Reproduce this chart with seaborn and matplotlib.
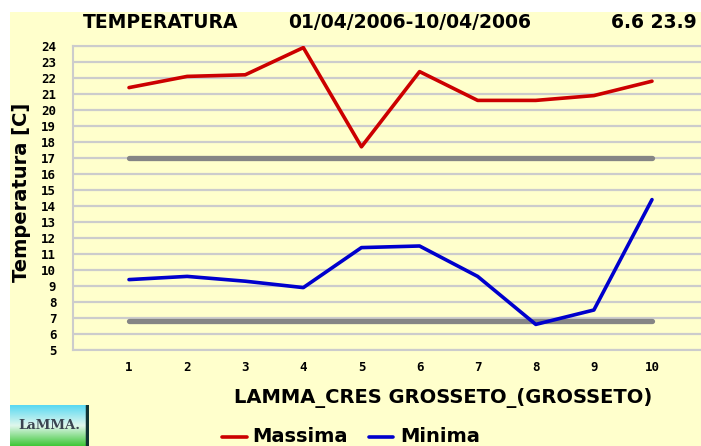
import numpy as np
import pandas as pd
import matplotlib
matplotlib.use("Agg")
import matplotlib.pyplot as plt
import seaborn as sns
from matplotlib.patches import Rectangle

days = [1, 2, 3, 4, 5, 6, 7, 8, 9, 10]
massima = [21.4, 22.1, 22.2, 23.9, 17.7, 22.4, 20.6, 20.6, 20.9, 21.8]
minima = [9.4, 9.6, 9.3, 8.9, 11.4, 11.5, 9.6, 6.6, 7.5, 14.4]
ref_max = 17.0
ref_min = 6.8
title_parts = ["TEMPERATURA", "01/04/2006-10/04/2006", "6.6 23.9"]
station = "LAMMA_CRES GROSSETO_(GROSSETO)"
yticks = list(range(5, 25))

sns.set_theme(style="white")
plt.rcParams['font.family'] = ['DejaVu Sans', 'DejaVu Sans Mono']
plt.rcParams['text.color'] = 'black'
plt.rcParams['axes.labelcolor'] = 'black'
plt.rcParams['xtick.labelcolor'] = 'black'
plt.rcParams['ytick.labelcolor'] = 'black'

W, H = 701, 446
fig = plt.figure(figsize=(W / 100, H / 100), dpi=100)
fig.patch.set_facecolor("white")
bg = Rectangle((10 / W, 0), 1 - 10 / W, 1 - 12 / H, transform=fig.transFigure,
               facecolor="#FFFFCC", edgecolor="none", zorder=-5)
fig.patches.append(bg)

ax = fig.add_axes([73 / W, (H - 350) / H, (701 - 73) / W, (350 - 46) / H])
ax.set_facecolor("#FFFFCC")

df = pd.DataFrame({"day": days * 2, "temp": massima + minima,
                   "serie": ["Massima"] * len(days) + ["Minima"] * len(days)})
sns.lineplot(data=df, x="day", y="temp", hue="serie", palette={"Massima": "#CC0000", "Minima": "#0000CC"},
             linewidth=2.6, ax=ax, legend=False, zorder=5)
sns.lineplot(x=[days[0], days[-1]], y=[ref_max, ref_max], color="#858585", linewidth=3.8, ax=ax, zorder=4)
sns.lineplot(x=[days[0], days[-1]], y=[ref_min, ref_min], color="#858585", linewidth=3.8, ax=ax, zorder=4)

ax.set_ylim(5, 24)
ax.set_xlim(1 - 56 / 58.1, 10 + 49 / 58.1)
ax.set_yticks(yticks)
ax.set_yticklabels([str(v) for v in yticks], fontsize=9, fontweight="bold", family="DejaVu Sans Mono")
ax.set_xticks(days)
ax.set_xticklabels([str(d) for d in days], fontsize=9, fontweight="bold", family="DejaVu Sans Mono")
ax.yaxis.grid(True, color="#CCCCCC", linewidth=1.6)
ax.tick_params(axis="y", length=0, pad=12, labelcolor="black")
ax.tick_params(axis="x", length=6, color="#CCCCCC", width=1.5, pad=2, direction="out", labelcolor="black")
for s in ax.spines.values():
    s.set_color("#CCCCCC")
    s.set_linewidth(1.5)
ax.spines["right"].set_visible(False)
ax.set_xlabel("")
ax.set_ylabel("Temperatura [C]", fontsize=14, fontweight="bold", color="black")
ax.yaxis.set_label_coords(-42 / (701 - 73), 1 - (192 - 46) / (350 - 46))

ty = 1 - 23 / H
fig.text(83 / W, ty, title_parts[0], fontsize=13.5, fontweight="bold", ha="left", va="center")
fig.text(410 / W, ty, title_parts[1], fontsize=13.5, fontweight="bold", ha="center", va="center")
fig.text(697 / W, ty, title_parts[2], fontsize=13.5, fontweight="bold", ha="right", va="center")
fig.text(443 / W, 1 - 398 / H, station, fontsize=14, fontweight="bold", ha="center", va="center")

# legend
ly = 1 - 437 / H
fig.lines.append(plt.Line2D([222 / W, 247 / W], [ly, ly], color="#CC0000", linewidth=2.6,
                            transform=fig.transFigure))
fig.text(252 / W, ly, "Massima", fontsize=14, fontweight="bold", ha="left", va="center")
fig.lines.append(plt.Line2D([369 / W, 393 / W], [ly, ly], color="#0000CC", linewidth=2.6,
                            transform=fig.transFigure))
fig.text(400 / W, ly, "Minima", fontsize=14, fontweight="bold", ha="left", va="center")

# logo
lax = fig.add_axes([10 / W, 0, 79 / W, 41 / H])
top = np.array([0.35, 0.85, 0.95])
mid = np.array([0.88, 0.97, 0.93])
bot = np.array([0.25, 0.78, 0.22])
t = np.linspace(0, 1, 60)[:, None]
cols = np.where(t < 0.5, top * (1 - 2 * t) + mid * (2 * t), mid * (2 - 2 * t) + bot * (2 * t - 1))
lax.imshow(cols.reshape(60, 1, 3), aspect="auto", extent=[0, 1, 0, 1])
lax.text(0.5, 0.5, "LaMMA.", fontsize=9.5, color="#3a4450", ha="center", va="center",
         family="DejaVu Serif", fontweight="bold")
lax.set_xticks([]); lax.set_yticks([])
for k, s in lax.spines.items():
    s.set_visible(False)
lax.axvline(0.97, color="#113333", linewidth=2.5)

fig.savefig("out.png", dpi=100, facecolor=fig.get_facecolor())
